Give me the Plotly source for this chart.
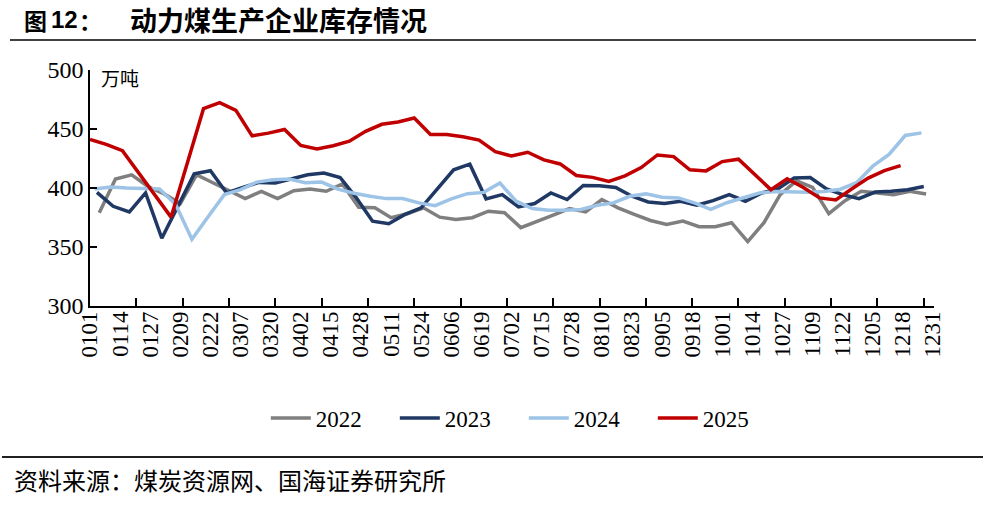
import pandas as pd
import plotly.graph_objects as go

TICK_LABELS = ['0101', '0114', '0127', '0209', '0222', '0307', '0320', '0402', '0415', '0428',
               '0511', '0524', '0606', '0619', '0702', '0715', '0728', '0810', '0823', '0905',
               '0918', '1001', '1014', '1027', '1109', '1122', '1205', '1218', '1231']

Y2022 = [379, 407.6, 411.2, 401.3, 395, 386.8, 411.2, 404.2, 397.2, 391,
         397.2, 391, 397.7, 399.2, 397.2, 403.4, 383.7, 383.2, 374.8, 378.2,
         383.2, 375.3, 373.4, 374.8, 380.3, 379, 366.4, 371.4, 377, 382.6,
         379.8, 390.2, 383.2, 377.6, 372.5, 369.2, 372, 367.2, 367.2, 370.6,
         354.6, 370.6, 394.4, 406.1, 400.5, 378.2, 389.3, 397.2, 395.8, 394.4,
         397.2, 395]
Y2023 = [396.3, 384.5, 379.8, 395.8, 357.4, 384.5, 412, 414.6, 395.8, 400.5,
         404.7, 404.2, 407.8, 411.2, 412.6, 408.9, 391.6, 371.9, 369.7, 377.6,
         383.2, 399.4, 415.4, 420.2, 390.8, 394.4, 384, 386.8, 395.8, 390.2,
         402.2, 402, 400.5, 393, 388.2, 386.8, 388.8, 385.4, 389.3, 394.4,
         388.8, 395.8, 399.2, 408.4, 408.9, 399.2, 394.4, 391, 396.6, 397.2,
         398.6, 401.3]
Y2024 = [399.2, 400.8, 400, 399.4, 399.2, 386, 356.6, 375.6, 394.4, 398.6,
         405, 407, 407.6, 404.5, 405, 399, 395.5, 393, 391, 391,
         387.4, 385, 390.8, 395.2, 396.3, 404.2, 388.8, 382.6, 381.2, 381.2,
         381.8, 385.4, 387.4, 393, 395, 392.1, 391.6, 387.4, 381.8, 387.5,
         392, 395.8, 397, 396.5, 396.3, 397, 399, 404.5, 418.5, 428.5,
         444.5, 446.7]
Y2025 = [441.2, 437, 431.6, 412.8, 394, 375.3, 421, 467.2, 472.3, 465.8,
         444.2, 446.5, 449.6, 436, 433, 435.8, 439.7, 448, 454, 456,
         459.3, 445.4, 445.4, 443.4, 440.6, 430.8, 427.1, 430.3, 423.8, 420.4,
         410.6, 409, 405.6, 410.3, 417.3, 428, 426.6, 415.4, 414.5, 422.4,
         424.4, 411.2, 398.6, 407.8, 400.5, 391.6, 389.9, 399.4, 408.4, 414.8,
         419]

# first weekly reading of each year (as month-day on a common calendar)
START = {'2022': '2021-01-05', '2023': '2021-01-04', '2024': '2021-01-03', '2025': '2021-01-01'}
SERIES = [('2022', Y2022, '#7F7F7F', 'x'), ('2023', Y2023, '#1F3864', 'x'),
          ('2024', Y2024, '#9DC3E6', 'x'), ('2025', Y2025, '#C00000', 'x2')]

fig = go.Figure()
for name, vals, color, xa in SERIES:
    xs = pd.date_range(START[name], periods=len(vals), freq='7D')
    fig.add_trace(go.Scatter(x=xs, y=vals, mode='lines', name=name, xaxis=xa, yaxis='y',
                             line=dict(color=color, width=3.5)))

XR = ['2021-01-01', '2021-12-31 10:00']
tickvals = ['2021-%s-%s' % (t[:2], t[2:]) for t in TICK_LABELS]

serif = 'Liberation Serif, Times New Roman, serif'
cjk = 'Noto Sans CJK SC'

fig.update_layout(
    width=986, height=510,
    margin=dict(l=90, r=52, t=70, b=204),
    paper_bgcolor='white', plot_bgcolor='white',
    showlegend=True,
    legend=dict(orientation='h', x=0.514, xanchor='center', y=-0.475, yanchor='middle',
                font=dict(family=serif, size=23, color='black'), entrywidth=74,
                itemwidth=40, bgcolor='rgba(0,0,0,0)'),
    xaxis=dict(type='date', range=XR, tick0='2021-01-01', dtick=20 * 86400000,
               ticks='inside', ticklen=8, tickcolor='black', tickwidth=1.5,
               showticklabels=False, showline=True, linecolor='black', linewidth=1.5,
               showgrid=False, zeroline=False),
    xaxis2=dict(type='date', range=XR, overlaying='x', anchor='y', side='bottom',
                tickmode='array', tickvals=tickvals, ticktext=TICK_LABELS,
                tickangle=-90, ticks='', showline=False, showgrid=False, zeroline=False,
                tickfont=dict(family=serif, size=23, color='black')),
    yaxis=dict(range=[300, 500], dtick=50, ticks='inside', ticklen=7, tickcolor='black',
               tickwidth=1.5, showline=True, linecolor='black', linewidth=1.5,
               showgrid=False, zeroline=False,
               tickfont=dict(family=serif, size=24, color='black')),
)


def px_x(p):
    return (p - 90) / 844.0


def px_y(p):
    return (306 - p) / 236.0


ann = [
    dict(text='<b>图</b>', x=px_x(22), y=px_y(20), font=dict(family=cjk, size=23, color='black')),
    dict(text='<b>12</b>', x=px_x(49), y=px_y(20), font=dict(family='Liberation Sans', size=24, color='black')),
    dict(text='<b>：</b>', x=px_x(77), y=px_y(20), font=dict(family=cjk, size=23, color='black')),
    dict(text='<b>动力煤生产企业库存情况</b>', x=px_x(128), y=px_y(20),
         font=dict(family=cjk, size=27, color='black')),
    dict(text='万吨', x=px_x(99), y=px_y(77), font=dict(family=cjk, size=19, color='black')),
    dict(text='资料来源：煤炭资源网、国海证券研究所', x=px_x(12), y=px_y(479),
         font=dict(family=cjk, size=24, color='black')),
]
for a in ann:
    fig.add_annotation(xref='paper', yref='paper', xanchor='left', yanchor='middle',
                       showarrow=False, **a)

fig.add_shape(type='line', xref='paper', yref='paper', x0=px_x(10), x1=px_x(976),
              y0=px_y(40), y1=px_y(40), line=dict(color='#404040', width=2))
fig.add_shape(type='line', xref='paper', yref='paper', x0=px_x(2), x1=px_x(983),
              y0=px_y(457), y1=px_y(457), line=dict(color='#202020', width=2))

fig.write_html('out.html', config={'displayModeBar': False},
               post_script="document.body.style.margin='0px';document.body.style.overflow='hidden';")
